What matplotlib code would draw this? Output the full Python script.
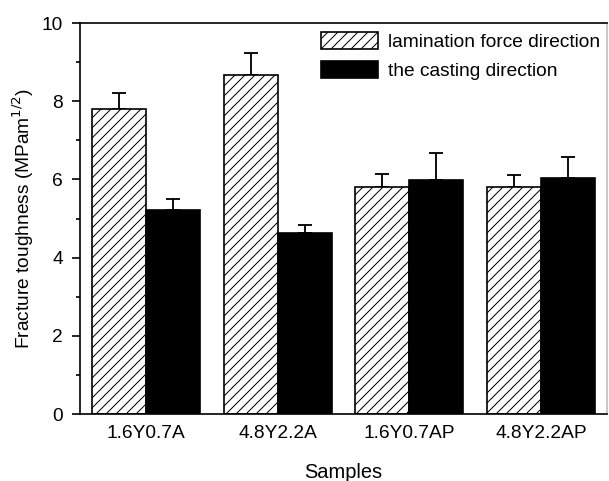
import numpy as np
import matplotlib
matplotlib.use('Agg')
import matplotlib.pyplot as plt
from matplotlib.ticker import MultipleLocator

samples = ['1.6Y0.7A', '4.8Y2.2A', '1.6Y0.7AP', '4.8Y2.2AP']
lamination = [7.80, 8.66, 5.81, 5.80]
lamination_err = [0.40, 0.56, 0.33, 0.31]
casting = [5.23, 4.63, 5.98, 6.03]
casting_err = [0.27, 0.20, 0.70, 0.54]

plt.rcParams['font.family'] = ['Liberation Sans', 'DejaVu Sans']
plt.rcParams['hatch.linewidth'] = 0.6

dpi = 120
fs = 11.5
fig = plt.figure(figsize=(609 / dpi, 481 / dpi), dpi=dpi)
ax = fig.add_axes([80 / 609, 1 - 414 / 481, 527 / 609, 391 / 481])

x = np.arange(len(samples))
w = 0.41
lw = 1.0

ax.bar(x - w / 2, lamination, w, color='white', edgecolor='black', hatch='////',
       linewidth=lw, label='lamination force direction', zorder=2)
ax.bar(x + w / 2, casting, w, color='black', edgecolor='black',
       linewidth=lw, label='the casting direction', zorder=2)

err_kw = dict(fmt='none', ecolor='black', elinewidth=1.1, capsize=4.2, capthick=1.1, zorder=1)
ax.errorbar(x - w / 2, lamination, yerr=[np.zeros(4), lamination_err], **err_kw)
ax.errorbar(x + w / 2, casting, yerr=[np.zeros(4), casting_err], **err_kw)

ax.set_xlim(-0.5, len(samples) - 0.5)
ax.set_ylim(0, 10)
ax.set_xticks(x)
ax.set_xticklabels(samples, fontsize=fs)
ax.yaxis.set_major_locator(MultipleLocator(2))
ax.yaxis.set_minor_locator(MultipleLocator(1))
ax.tick_params(axis='y', which='major', direction='out', length=4.8, width=1.0, labelsize=fs, pad=5.5)
ax.tick_params(axis='y', which='minor', direction='out', length=2.5, width=1.0)
ax.tick_params(axis='x', length=0, pad=6.5)

for s in ax.spines.values():
    s.set_linewidth(1.0)
ax.spines['right'].set_color('0.75')

ax.set_xlabel('Samples', fontsize=12, labelpad=12.5)
ax.set_ylabel('Fracture toughness (MPam$^{1/2}$)', fontsize=fs, labelpad=3.5)

ax.legend(loc='upper left', bbox_to_anchor=(0.457, 0.978), frameon=False, fontsize=fs,
          handlelength=3.0, handleheight=1.0, handletextpad=0.5, labelspacing=0.55,
          borderpad=0, borderaxespad=0)

fig.savefig('out.png', dpi=dpi)
